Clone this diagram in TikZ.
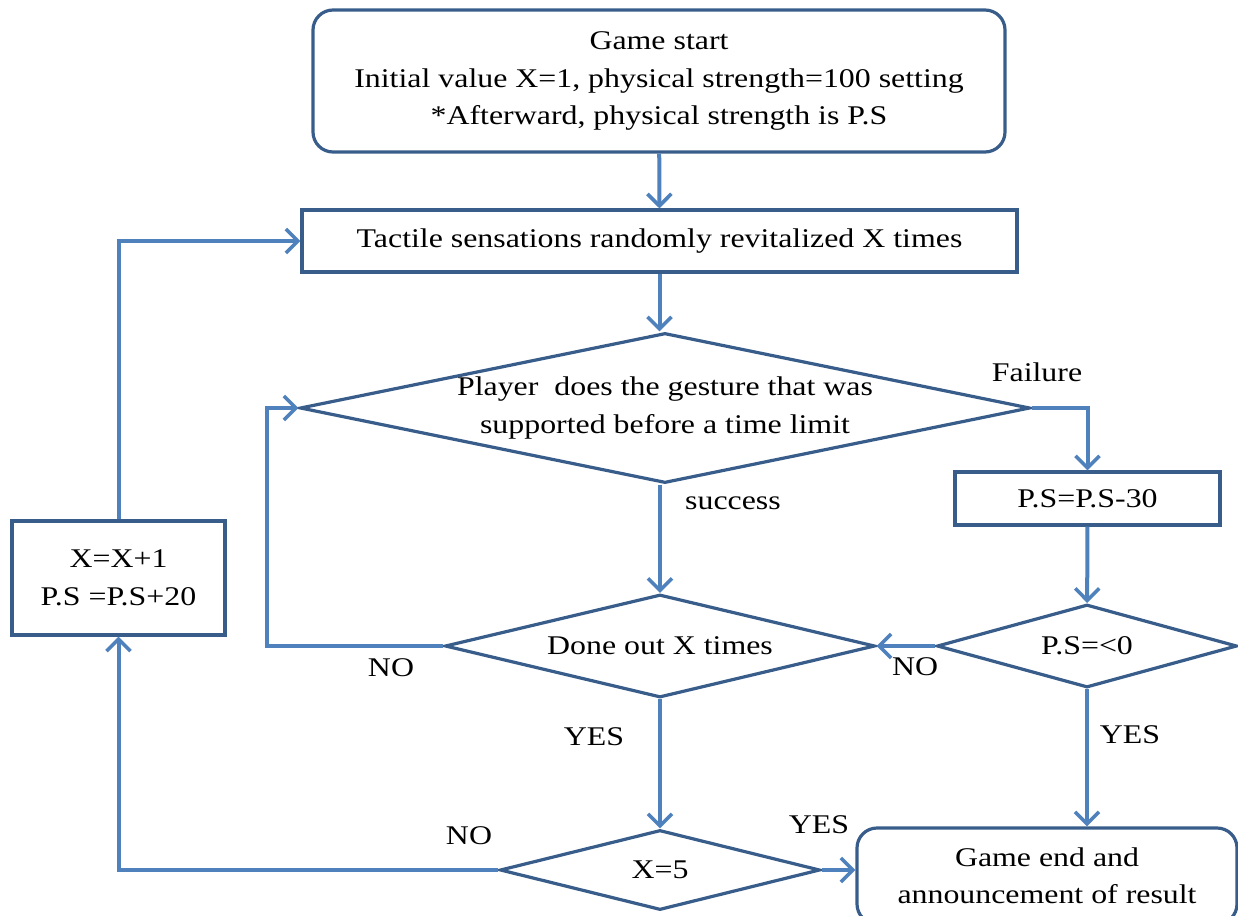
\documentclass[tikz,border=0pt]{standalone}
\usepackage{fontspec}
\setmainfont[FakeStretch=1.18]{Liberation Serif}
\usetikzlibrary{positioning,shapes.geometric,arrows.meta,calc}
\definecolor{boxblue}{HTML}{385D8A}
\definecolor{lineblue}{HTML}{4F81BD}

\begin{document}
\begin{tikzpicture}[x=1pt,y=-1pt,font=\fontsize{27}{37.5}\selectfont,
    box/.style={draw=boxblue,line width=3.2pt,align=center,inner sep=0pt},
    rbox/.style={box,rounded corners=20pt},
    decision/.style={box,diamond},
    flow/.style={draw=lineblue,line width=4pt,-{Straight Barb[length=12pt,width=24pt,line width=3.6pt]}}]
  \useasboundingbox (0,0) rectangle (1238,915);
  % boxes
  \node[rbox,minimum width=692pt,minimum height=142pt] (start) at (659,81)
     {Game start\\Initial value X=1, physical strength=100 setting\\*Afterward, physical strength is P.S};
  \node[box,minimum width=715pt,minimum height=62pt] (tactile) at (659.5,241)
     {Tactile sensations randomly revitalized X times};
  \node[decision,shape aspect=4.87,minimum width=730pt,minimum height=150pt] (gesture) at (665,408)
     {Player\ \ does the gesture that was\\supported before a time limit};
  \node[box,minimum width=265pt,minimum height=53pt] (minus) at (1087.5,498.5) {P.S=P.S-30};
  \node[decision,shape aspect=4.17,minimum width=430pt,minimum height=103pt] (done) at (660,646) {Done out X times};
  \node[decision,shape aspect=3.6,minimum width=300pt,minimum height=83pt] (zero) at (1087,646) {P.S=\textless0};
  \node[box,minimum width=213pt,minimum height=114pt] (plus) at (118.5,578) {X=X+1\\P.S =P.S+20};
  \node[decision,shape aspect=4,minimum width=320pt,minimum height=80pt] (five) at (660,870) {X=5};
  \node[rbox,minimum width=380pt,minimum height=96pt] (finish) at (1047,876)
     {Game end and\\announcement of result};
  \coordinate (loop) at (267,0);
  % connectors
  \draw[flow] (start) -- (tactile);
  \draw[flow] (tactile) -- (tactile |- gesture.north);
  \draw[flow] (gesture.south -| done.north) -- (done.north);
  \draw[flow] (gesture.east) -| (minus.north);
  \draw[flow] (minus) -- (zero);
  \draw[flow] (zero.west) -- (done.east);
  \draw[flow] (zero.south) -- (zero.south |- finish.north);
  \draw[flow] (done.west) -- (done.west -| loop) |- (gesture.west);
  \draw[flow] (done.south) -- (five.north);
  \draw[flow] (five.west) -| (plus.south);
  \draw[flow] (five.east) -- (finish.west |- five.east);
  \draw[flow] (plus.north) |- (tactile.west);
  % labels
  \node (failure) at (1037,372) {Failure};
  \node (success) at (733,503) {success};
  \node (no1) at (915,667) {NO};
  \node (yes1) at (1130,735) {YES};
  \node (no2) at (391,668) {NO};
  \node (yes2) at (594,737) {YES};
  \node (no3) at (469,836) {NO};
  \node (yes3) at (819,825) {YES};
\end{tikzpicture}
\end{document}
